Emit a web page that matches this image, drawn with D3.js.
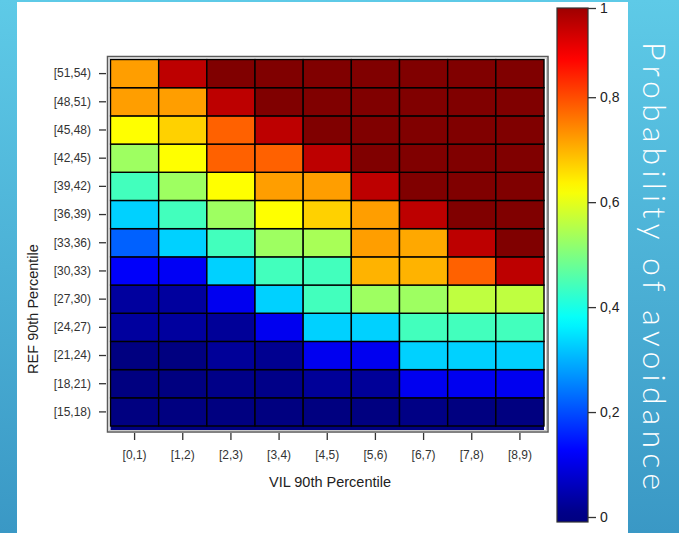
<!DOCTYPE html>
<html>
<head>
<meta charset="utf-8">
<script src="https://cdn.jsdelivr.net/npm/d3@7"></script>
<style>
  html, body { margin: 0; padding: 0; background: #fff; }
  svg { display: block; }
</style>
</head>
<body>
<div id="chart"></div>
<script>
// column / row bins
const vilBins = ["[0,1)", "[1,2)", "[2,3)", "[3,4)", "[4,5)", "[5,6)", "[6,7)", "[7,8)", "[8,9)"];
const refBins = ["[15,18)", "[18,21)", "[21,24)", "[24,27)", "[27,30)", "[30,33)", "[33,36)",
                 "[36,39)", "[39,42)", "[42,45)", "[45,48)", "[48,51)", "[51,54)"];

// probability of avoidance, one array per REF bin (low to high), one value per VIL bin
const p15 = [0, 0, 0, 0, 0, 0, 0.005, 0, 0];
const p18 = [0, 0, 0.008, 0.008, 0.024, 0.024, 0.11, 0.11, 0.11];
const p21 = [0, 0, 0.024, 0.016, 0.11, 0.11, 0.33, 0.33, 0.33];
const p24 = [0.03, 0.03, 0.024, 0.11, 0.33, 0.33, 0.44, 0.44, 0.44];
const p27 = [0.03, 0.03, 0.11, 0.33, 0.44, 0.53, 0.53, 0.5625, 0.5625];
const p30 = [0.12, 0.115, 0.33, 0.44, 0.44, 0.70, 0.70, 0.78, 0.94];
const p33 = [0.22, 0.33, 0.44, 0.53, 0.54, 0.72, 0.71, 0.94, 1];
const p36 = [0.33, 0.44, 0.53, 0.625, 0.67, 0.72, 0.94, 1, 1];
const p39 = [0.44, 0.53, 0.625, 0.72, 0.72, 0.94, 1, 1, 1];
const p42 = [0.53, 0.625, 0.78, 0.78, 0.94, 1, 1, 1, 1];
const p45 = [0.625, 0.67, 0.78, 0.94, 1, 1, 1, 1, 1];
const p48 = [0.72, 0.72, 0.94, 1, 1, 1, 1, 1, 1];
const p51 = [0.72, 0.94, 1, 1, 1, 1, 1, 1, 1];
const probRows = [p15, p18, p21, p24, p27, p30, p33, p36, p39, p42, p45, p48, p51];

const legendTicks = [0, 0.2, 0.4, 0.6, 0.8, 1];

const width = 679, height = 533;

// matlab style jet colormap
function jet(v) {
    v = Math.max(0, Math.min(1, v));
    const c = x => Math.round(255 * Math.max(0, Math.min(1, x)));
    return d3.rgb(c(1.5 - Math.abs(4 * v - 3)), c(1.5 - Math.abs(4 * v - 2)), c(1.5 - Math.abs(4 * v - 1))).formatHex();
}

const cells = [];
refBins.forEach((r, i) => vilBins.forEach((v, j) => cells.push({ref: r, vil: v, value: probRows[i][j]})));

const svg = d3.select("#chart").append("svg")
    .attr("width", width)
    .attr("height", height);

const defs = svg.append("defs");
const bg = defs.append("linearGradient").attr("id", "bg")
    .attr("x1", 0).attr("y1", 0).attr("x2", 0).attr("y2", 1);
bg.append("stop").attr("offset", 0).attr("stop-color", "#5ecae7");
bg.append("stop").attr("offset", 1).attr("stop-color", "#3a98c5");

svg.append("rect").attr("width", width).attr("height", height).attr("fill", "url(#bg)");
svg.append("rect").attr("x", 17).attr("y", 2).attr("width", 611).attr("height", 531).attr("fill", "#fff");

const x = d3.scaleBand().domain(vilBins).range([110.5, 544]);
const y = d3.scaleBand().domain(refBins.slice().reverse()).range([59.5, 426]);

// plot area backdrop (thin strip below last row)
svg.append("rect")
    .attr("x", 110.5).attr("y", 59.5).attr("width", 433.5).attr("height", 370.5)
    .attr("fill", jet(0));

svg.append("g").selectAll("rect")
    .data(cells)
    .join("rect")
    .attr("x", d => x(d.vil))
    .attr("y", d => y(d.ref))
    .attr("width", x.bandwidth())
    .attr("height", y.bandwidth())
    .attr("fill", d => jet(d.value))
    .attr("stroke", "#000")
    .attr("stroke-width", 1.4);

// frame
svg.append("rect")
    .attr("x", 107.5).attr("y", 56.5).attr("width", 440.5).attr("height", 375.5)
    .attr("fill", "none").attr("stroke", "#5a5a5a").attr("stroke-width", 1.5);
svg.append("rect")
    .attr("x", 109).attr("y", 58).attr("width", 437.5).attr("height", 372.5)
    .attr("fill", "none").attr("stroke", "#c8c8c8").attr("stroke-width", 1);

// axes
const xAxis = svg.append("g")
    .attr("transform", "translate(0,433)")
    .call(d3.axisBottom(x).tickSize(7).tickPadding(10));
xAxis.select(".domain").remove();
xAxis.selectAll(".tick line").attr("stroke", "#333").attr("stroke-width", 1.3);
xAxis.selectAll("text")
    .attr("font-family", "Liberation Sans, Arial, sans-serif")
    .attr("font-size", 12).attr("fill", "#333");

const yAxis = svg.append("g")
    .attr("transform", "translate(106,0)")
    .call(d3.axisLeft(y).tickSize(7).tickPadding(8));
yAxis.select(".domain").remove();
yAxis.selectAll(".tick line").attr("stroke", "#333").attr("stroke-width", 1.3);
yAxis.selectAll("text")
    .attr("font-family", "Liberation Sans, Arial, sans-serif")
    .attr("font-size", 12).attr("fill", "#333");

svg.append("text")
    .attr("x", 330).attr("y", 487)
    .attr("text-anchor", "middle")
    .attr("font-family", "Liberation Sans, Arial, sans-serif")
    .attr("font-size", 14.5).attr("fill", "#222")
    .text("VIL 90th Percentile");

svg.append("text")
    .attr("transform", "translate(38,309) rotate(-90)")
    .attr("text-anchor", "middle")
    .attr("font-family", "Liberation Sans, Arial, sans-serif")
    .attr("font-size", 14.5).attr("fill", "#222")
    .text("REF 90th Percentile");

// colour bar
const cb = d3.scaleLinear().domain([0, 0.97]).range([517, 8]).clamp(true);
const barTop = 8, barBottom = 522, barX = 557, barW = 31;

const grad = defs.append("linearGradient").attr("id", "jetbar")
    .attr("x1", 0).attr("y1", 0).attr("x2", 0).attr("y2", 1);
d3.range(0, 1.0001, 0.02).forEach(t => {
    const yy = barTop + t * (barBottom - barTop);
    grad.append("stop").attr("offset", t).attr("stop-color", jet(cb.invert(yy)));
});

svg.append("rect")
    .attr("x", barX).attr("y", barTop).attr("width", barW).attr("height", barBottom - barTop)
    .attr("fill", "url(#jetbar)")
    .attr("stroke", "#333").attr("stroke-width", 1.2);

const fmt = d3.formatLocale({decimal: ",", thousands: ".", grouping: [3], currency: ["", ""]}).format(".1~f");

const cbAxis = svg.append("g")
    .attr("transform", `translate(${barX + barW},0)`)
    .call(d3.axisRight(cb).tickValues(legendTicks).tickFormat(fmt).tickSize(8).tickPadding(4));
cbAxis.select(".domain").remove();
cbAxis.selectAll(".tick line").attr("stroke", "#333").attr("stroke-width", 1.3);
cbAxis.selectAll("text")
    .attr("font-family", "Liberation Sans, Arial, sans-serif")
    .attr("font-size", 14).attr("fill", "#222");

// side title
svg.append("text")
    .attr("transform", "translate(643,266) rotate(90)")
    .attr("text-anchor", "middle")
    .attr("font-family", "Lato, 'Open Sans', sans-serif")
    .attr("font-weight", 300)
    .attr("font-size", 32)
    .attr("fill", "#fff")
    .attr("textLength", 448)
    .attr("lengthAdjust", "spacing")
    .text("Probability of avoidance");
</script>
</body>
</html>
